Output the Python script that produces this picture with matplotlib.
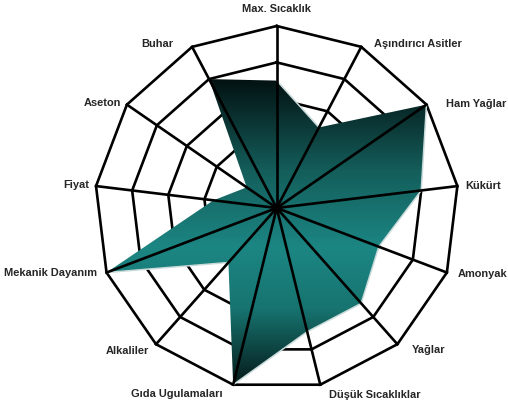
import numpy as np
import matplotlib
matplotlib.use("Agg")
import matplotlib.pyplot as plt
from matplotlib.colors import LinearSegmentedColormap
from matplotlib.patches import Polygon

# categories clockwise from the top
categories = ["Max. Sıcaklık", "Aşındırıcı Asitler", "Ham Yağlar", "Kükürt",
              "Amonyak", "Yağlar", "Düşük Sıcaklıklar", "Gıda Ugulamaları",
              "Alkaliler", "Mekanik Dayanım", "Fiyat", "Aseton", "Buhar"]
values = [7, 5, 10, 8, 6, 7, 7, 10, 4, 10, 3.5, 2, 8]
ring_levels = [2, 4, 6, 8, 10]

W, H = 508, 407
cx, cy = 276.7, 208.0      # centre in pixels (from top-left)
unit = 18.2                # pixels per value unit

fig = plt.figure(figsize=(W / 100, H / 100), dpi=100)
ax = fig.add_axes([0, 0, 1, 1])
ax.set_xlim(-cx / unit, (W - cx) / unit)
ax.set_ylim(-(H - cy) / unit, cy / unit)
ax.set_aspect("equal")
ax.axis("off")

n = len(categories)
ang = np.pi / 2 - np.arange(n) * 2 * np.pi / n
ux, uy = np.cos(ang), np.sin(ang)

# grid rings (under the data polygon)
for lv in ring_levels:
    rx = np.append(lv * ux, lv * ux[0])
    ry = np.append(lv * uy, lv * uy[0])
    ax.plot(rx, ry, color="black", lw=1.9, zorder=1, solid_joinstyle="miter")

# gradient filled data polygon
px = np.array(values) * ux
py = np.array(values) * uy

cmap = LinearSegmentedColormap.from_list("teal", [
    (0.0, "#031212"), (0.30, "#145e5b"), (0.55, "#1c8683"),
    (0.75, "#177470"), (1.0, "#051a1a")])
grad = np.linspace(0, 1, 256).reshape(-1, 1)
im = ax.imshow(grad, cmap=cmap, aspect="auto",
               extent=[px.min(), px.max(), py.min(), py.max()],
               origin="upper", zorder=2)
clip = Polygon(np.column_stack([px, py]), closed=True, transform=ax.transData)
im.set_clip_path(clip)

# light highlight only on the lower / right facing edges
for i in range(n):
    j = (i + 1) % n
    ex, ey = px[j] - px[i], py[j] - py[i]
    nx, ny = -ey, ex          # outward normal for clockwise order
    if nx - ny > 0:
        ax.plot([px[i], px[j]], [py[i], py[j]], color="#c9dada", lw=1.1,
                zorder=2.5)

# spokes on top
for i in range(n):
    ax.plot([0, 10 * ux[i]], [0, 10 * uy[i]], color="black", lw=1.9, zorder=3)
ax.plot(0, 0, "o", color="black", ms=6, zorder=4)

# labels
label_pos = {
    "Max. Sıcaklık": (0, 10.95, "center"),
    "Aşındırıcı Asitler": (5.35, 9.0, "left"),
    "Ham Yağlar": (9.3, 5.7, "left"),
    "Kükürt": (10.35, 1.2, "left"),
    "Amonyak": (9.95, -3.6, "left"),
    "Yağlar": (7.4, -7.8, "left"),
    "Düşük Sıcaklıklar": (2.9, -10.25, "left"),
    "Gıda Ugulamaları": (-2.95, -10.2, "right"),
    "Alkaliler": (-7.0, -7.85, "right"),
    "Mekanik Dayanım": (-9.85, -3.55, "right"),
    "Fiyat": (-10.3, 1.25, "right"),
    "Aseton": (-8.55, 5.75, "right"),
    "Buhar": (-5.7, 9.0, "right"),
}
for cat in categories:
    x, y, ha = label_pos[cat]
    ax.text(x, y, cat, ha=ha, va="center", fontsize=7.9, fontweight="bold",
            family="Liberation Sans", color="#262626")

fig.savefig("out.png", dpi=100)
